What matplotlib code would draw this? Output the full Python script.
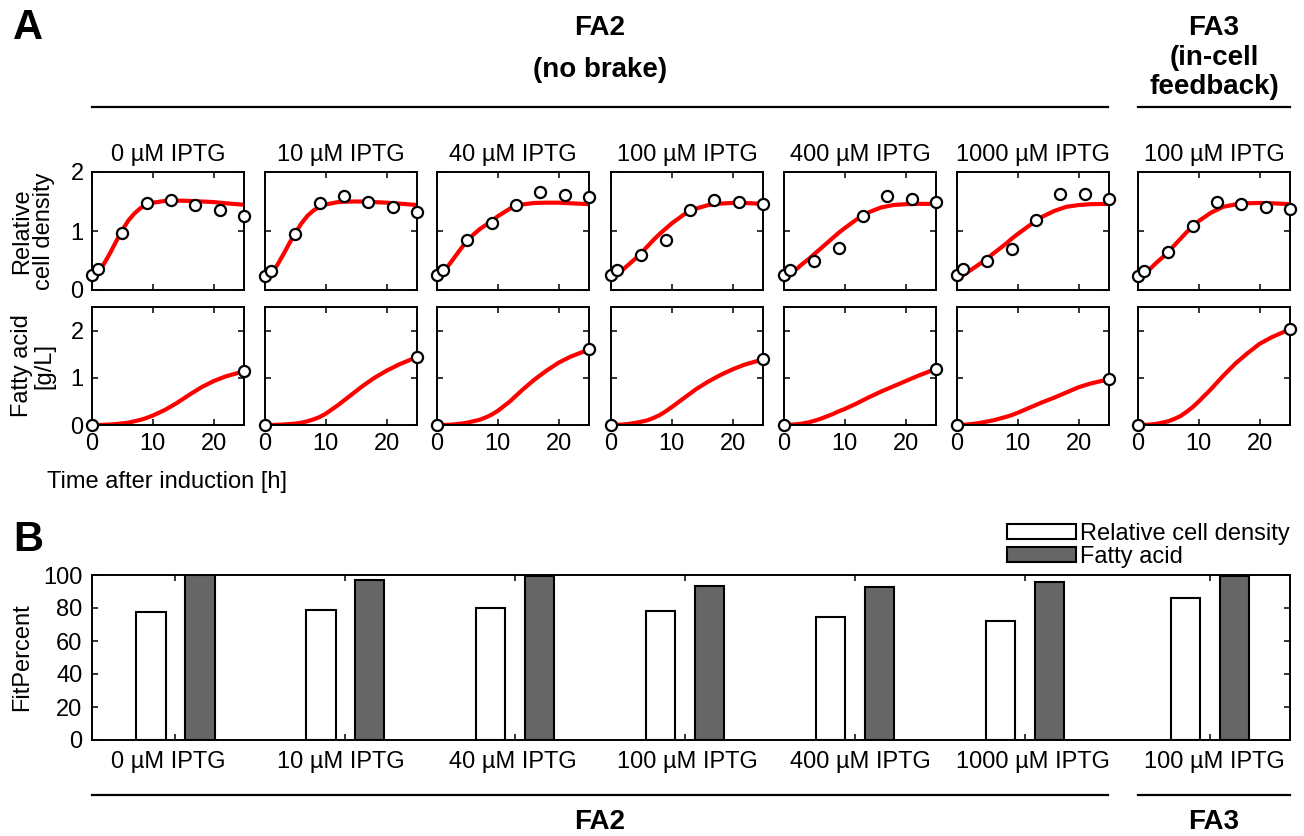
import matplotlib.pyplot as plt
from matplotlib.lines import Line2D
from matplotlib.patches import Patch

plt.rcParams['font.family'] = ['Liberation Sans', 'DejaVu Sans']

# --- data ---
conditions = ['0 µM IPTG', '10 µM IPTG', '40 µM IPTG', '100 µM IPTG',
              '400 µM IPTG', '1000 µM IPTG', '100 µM IPTG']

t_obs = [0, 1, 5, 9, 13, 17, 21, 25]
density_obs = [
    [0.25, 0.35, 0.96, 1.48, 1.53, 1.44, 1.36, 1.26],
    [0.24, 0.33, 0.95, 1.47, 1.60, 1.50, 1.41, 1.33],
    [0.25, 0.34, 0.85, 1.13, 1.44, 1.66, 1.61, 1.57],
    [0.25, 0.34, 0.60, 0.84, 1.36, 1.53, 1.50, 1.46],
    [0.25, 0.34, 0.50, 0.72, 1.25, 1.60, 1.55, 1.50],
    [0.26, 0.35, 0.50, 0.70, 1.18, 1.62, 1.63, 1.54],
    [0.24, 0.32, 0.65, 1.09, 1.50, 1.45, 1.41, 1.38],
]

t_fa_obs = [0, 25]
fa_obs = [[0, 1.14], [0, 1.44], [0, 1.60], [0, 1.39],
          [0, 1.19], [0, 0.97], [0, 2.03]]

# model curves (values read at these times)
t_fit = [0, 1, 2, 3, 4, 5, 6, 7, 8, 9, 10, 12, 14, 16, 18, 20, 22, 25]
density_fit = [
    [0.17, 0.30, 0.45, 0.63, 0.83, 1.02, 1.18, 1.30, 1.39, 1.44, 1.48, 1.51, 1.515, 1.51, 1.50, 1.49, 1.47, 1.445],
    [0.16, 0.28, 0.42, 0.60, 0.79, 0.97, 1.13, 1.26, 1.35, 1.41, 1.45, 1.49, 1.50, 1.50, 1.49, 1.48, 1.465, 1.44],
    [0.17, 0.30, 0.43, 0.57, 0.71, 0.84, 0.94, 1.03, 1.10, 1.17, 1.25, 1.38, 1.45, 1.475, 1.48, 1.48, 1.47, 1.455],
    [0.17, 0.26, 0.35, 0.44, 0.53, 0.63, 0.74, 0.85, 0.95, 1.04, 1.13, 1.28, 1.38, 1.44, 1.465, 1.475, 1.475, 1.46],
    [0.19, 0.27, 0.35, 0.44, 0.52, 0.61, 0.70, 0.79, 0.88, 0.97, 1.05, 1.20, 1.32, 1.40, 1.44, 1.455, 1.46, 1.46],
    [0.18, 0.25, 0.32, 0.39, 0.46, 0.54, 0.62, 0.70, 0.78, 0.87, 0.95, 1.10, 1.24, 1.34, 1.41, 1.44, 1.455, 1.46],
    [0.17, 0.27, 0.36, 0.46, 0.55, 0.65, 0.76, 0.87, 0.98, 1.08, 1.17, 1.31, 1.41, 1.45, 1.47, 1.475, 1.47, 1.455],
]
fa_fit = [
    [0, 0, 0.005, 0.01, 0.02, 0.035, 0.05, 0.08, 0.11, 0.15, 0.20, 0.32, 0.47, 0.64, 0.80, 0.93, 1.03, 1.14],
    [0, 0, 0.005, 0.01, 0.02, 0.03, 0.05, 0.08, 0.12, 0.17, 0.24, 0.42, 0.62, 0.82, 1.00, 1.15, 1.28, 1.44],
    [0, 0, 0.005, 0.015, 0.03, 0.05, 0.08, 0.11, 0.16, 0.22, 0.30, 0.50, 0.74, 0.96, 1.15, 1.32, 1.45, 1.60],
    [0, 0.005, 0.01, 0.025, 0.045, 0.07, 0.10, 0.15, 0.21, 0.29, 0.38, 0.57, 0.76, 0.92, 1.06, 1.18, 1.28, 1.39],
    [0, 0.005, 0.015, 0.03, 0.055, 0.09, 0.13, 0.18, 0.23, 0.29, 0.34, 0.46, 0.59, 0.71, 0.82, 0.93, 1.04, 1.19],
    [0, 0.005, 0.015, 0.03, 0.05, 0.075, 0.10, 0.135, 0.17, 0.21, 0.26, 0.37, 0.48, 0.58, 0.69, 0.80, 0.88, 0.97],
    [0, 0.003, 0.01, 0.025, 0.05, 0.08, 0.13, 0.19, 0.28, 0.38, 0.50, 0.76, 1.04, 1.30, 1.52, 1.72, 1.86, 2.03],
]

fit_density = [77.3, 78.6, 80.0, 77.9, 74.5, 72.4, 86.0]
fit_fa = [99.8, 97.1, 99.3, 93.6, 92.8, 95.9, 99.6]

# --- layout (pixel based) ---
W, H = 1304, 836
fig = plt.figure(figsize=(W / 100, H / 100), dpi=100)


def box(x0, y0, x1, y1):
    return [x0 / W, 1 - y1 / H, (x1 - x0) / W, (y1 - y0) / H]


def hline(x0, x1, y):
    fig.add_artist(Line2D([x0 / W, x1 / W], [1 - y / H] * 2, color='black', lw=1.6))


def ftext(x, y, s, **kw):
    fig.text(x / W, 1 - y / H, s, **kw)


def style(ax):
    ax.tick_params(direction='in', top=True, right=True, length=4, width=1.1,
                   labelsize=17, pad=6)
    for sp in ax.spines.values():
        sp.set_linewidth(1.4)


lefts = [92, 265, 437, 611, 784, 957, 1138]
pw = 152

for i, left in enumerate(lefts):
    ax1 = fig.add_axes(box(left, 172, left + pw, 290))
    ax2 = fig.add_axes(box(left, 307, left + pw, 425))

    ax1.plot(t_fit, density_fit[i], color='red', lw=3, solid_capstyle='round', zorder=2)
    ax1.plot(t_obs, density_obs[i], 'o', ms=8, mfc='white', mec='black', mew=1.6,
             clip_on=False, zorder=3)
    ax2.plot(t_fit, fa_fit[i], color='red', lw=3, solid_capstyle='round', zorder=2)
    ax2.plot(t_fa_obs, fa_obs[i], 'o', ms=8, mfc='white', mec='black', mew=1.6,
             clip_on=False, zorder=3)

    ax1.set_xlim(0, 25)
    ax1.set_ylim(0, 2)
    ax1.set_yticks([0, 1, 2])
    ax2.set_xlim(0, 25)
    ax2.set_ylim(0, 2.5)
    ax2.set_yticks([0, 1, 2])
    for ax in (ax1, ax2):
        ax.set_xticks([0, 10, 20])
        style(ax)
    ax1.tick_params(labelbottom=False)
    if i > 0:
        ax1.tick_params(labelleft=False)
        ax2.tick_params(labelleft=False)

    ftext(left + pw / 2, 161, conditions[i], ha='center', va='baseline', fontsize=17)

ftext(33, 231, 'Relative\ncell density', rotation=90, ha='center', va='center',
      fontsize=17, linespacing=1.0)
ftext(33, 366, 'Fatty acid\n[g/L]', rotation=90, ha='center', va='center',
      fontsize=17, linespacing=1.0)
ftext(47, 482, 'Time after induction [h]', ha='left', va='center', fontsize=17)

# headers
ftext(13, 28, 'A', ha='left', va='center', fontsize=30, fontweight='bold')
ftext(600, 28, 'FA2', ha='center', va='center', fontsize=20, fontweight='bold')
ftext(600, 70, '(no brake)', ha='center', va='center', fontsize=20, fontweight='bold')
ftext(1214, 28, 'FA3', ha='center', va='center', fontsize=20, fontweight='bold')
ftext(1214, 58, '(in-cell', ha='center', va='center', fontsize=20, fontweight='bold')
ftext(1214, 87, 'feedback)', ha='center', va='center', fontsize=20, fontweight='bold')
hline(92, 1108, 107)
hline(1138, 1290, 107)

# --- panel B ---
ftext(13, 540, 'B', ha='left', va='center', fontsize=30, fontweight='bold')
axb = fig.add_axes(box(92, 575, 1290, 740))
group_x = [1, 2, 3, 4, 5, 6, 7.09]
off, bw = 0.144, 0.174
axb.bar([g - off for g in group_x], fit_density, width=bw, color='white',
        edgecolor='black', lw=1.5, label='Relative cell density')
axb.bar([g + off for g in group_x], fit_fa, width=bw, color='#666666',
        edgecolor='black', lw=1.5, label='Fatty acid')
axb.set_xlim(0.51, 7.56)
axb.set_ylim(0, 100)
axb.set_yticks(range(0, 101, 20))
axb.set_xticks(group_x)
axb.tick_params(axis='x', labelbottom=False)
style(axb)
axb.tick_params(axis='y', pad=7)
for left, name in zip(lefts, conditions):
    ftext(left + pw / 2, 768, name, ha='center', va='baseline', fontsize=17)
ftext(22, 657, 'FitPercent', rotation=90, ha='center', va='center', fontsize=17)

handles = [Patch(facecolor='white', edgecolor='black', lw=1.5),
           Patch(facecolor='#666666', edgecolor='black', lw=1.5)]
fig.legend(handles, ['Relative cell density', 'Fatty acid'], loc='lower right',
           bbox_to_anchor=(1290 / W, 1 - 568 / H), frameon=False, fontsize=17,
           handlelength=2.9, handleheight=0.6, handletextpad=0.2,
           labelspacing=0.05, borderpad=0, borderaxespad=0)

hline(92, 1108, 795)
hline(1138, 1290, 795)
ftext(600, 822, 'FA2', ha='center', va='center', fontsize=20, fontweight='bold')
ftext(1214, 822, 'FA3', ha='center', va='center', fontsize=20, fontweight='bold')

fig.savefig('out.png', dpi=100)
